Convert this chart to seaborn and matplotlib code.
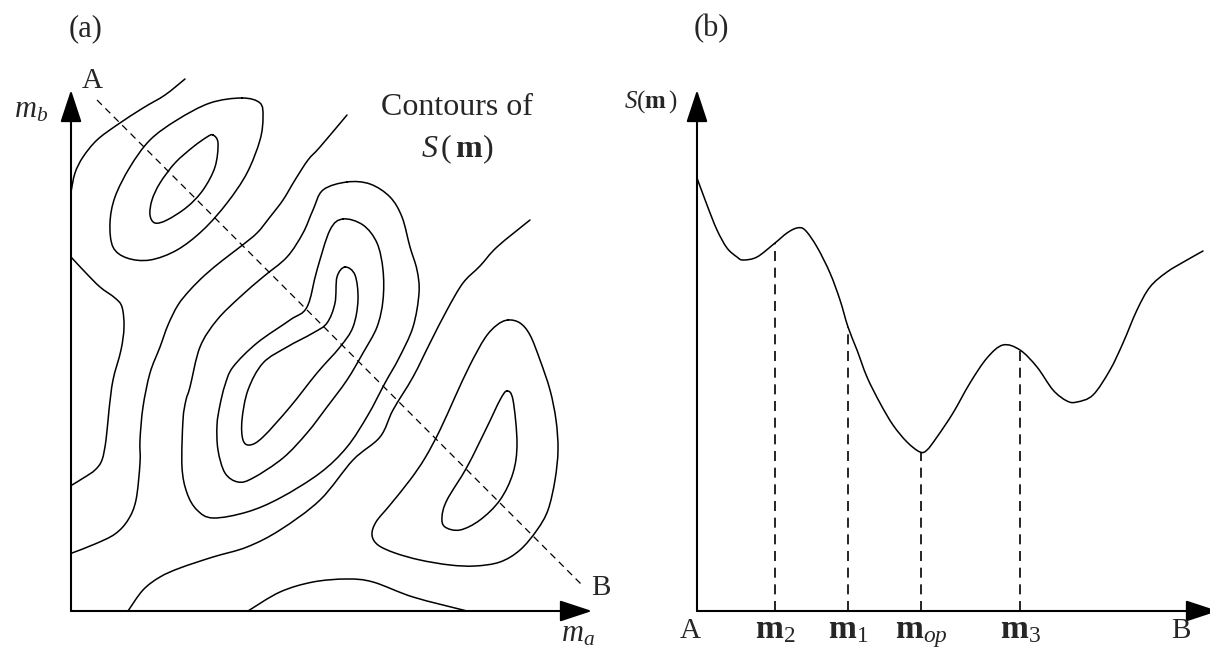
import numpy as np
import pandas as pd
import matplotlib
matplotlib.use("Agg")
import matplotlib.pyplot as plt
from matplotlib.path import Path
from matplotlib.patches import PathPatch
import seaborn as sns

# ---------------- data (panel a: contours of S(m) in the (m_a, m_b) plane) ----------------
c1_ma = [0, 4, 12, 26, 46, 72, 94, 114]
c1_mb = [419, 438, 454, 471, 486, 503, 516, 532]

c2_ma = [171, 189, 192, 189, 176, 156, 132, 106, 79, 56, 42, 39, 44, 59, 79, 106, 139, 171]
c2_mb = [513, 508, 494, 471, 438, 408, 381, 361, 351, 353, 364, 388, 414, 444, 471, 491, 508, 513]

c3_ma = [142, 147, 144, 132, 116, 96, 84, 79, 81, 89, 104, 122, 136, 142]
c3_mb = [476, 468, 444, 421, 404, 391, 388, 396, 411, 428, 448, 464, 474, 476]

c4_ma = [0, 14, 29, 44, 51, 53, 50, 42, 38, 35, 31, 24, 14, 1]
c4_mb = [354, 339, 324, 313, 304, 284, 261, 231, 201, 171, 151, 141, 134, 126]

c5_ma = [276, 249, 237, 224, 212, 199, 186, 169, 152, 134, 119, 107, 97, 89, 79, 72, 69, 69, 65, 57, 44, 24, 1]
c5_mb = [496, 464, 451, 431, 411, 394, 378, 364, 351, 336, 321, 306, 286, 264, 238, 204, 171, 148, 111, 91, 77, 67, 58]

c6_ma = [459, 426, 409, 392, 376, 359, 342, 322, 309, 282, 249, 209, 176, 142, 109, 89, 72, 57]
c6_mb = [391, 364, 345, 328, 301, 268, 234, 201, 174, 151, 111, 81, 64, 54, 43, 34, 21, 0]

c7_ma = [276, 299, 319, 331, 339, 346, 348, 342, 328, 314, 297, 276, 249, 209, 176, 142, 126, 116, 111, 112,
         115, 119, 129, 146, 169, 192, 216, 232, 242, 252, 276]
c7_mb = [429, 427, 414, 394, 364, 341, 318, 284, 253, 228, 196, 164, 138, 113, 99, 93, 101, 118, 144, 191,
         211, 224, 264, 291, 314, 334, 354, 378, 401, 421, 429]

c8_ma = [272, 292, 306, 312, 312, 306, 292, 276, 256, 236, 212, 182, 167, 154, 147, 146, 149, 154, 162, 186,
         219, 236, 246, 259, 272]
c8_mb = [392, 386, 368, 341, 311, 284, 258, 231, 204, 178, 153, 133, 129, 138, 161, 186, 206, 226, 244, 268,
         291, 304, 341, 381, 392]

c9_ma = [274, 284, 287, 282, 269, 246, 219, 192, 179, 172, 171, 177, 192, 216, 242, 256, 264, 266, 274]
c9_mb = [344, 336, 311, 284, 264, 238, 204, 174, 166, 171, 191, 221, 248, 264, 278, 288, 308, 334, 344]

c10_ma = [437, 449, 459, 469, 479, 485, 487, 484, 477, 466, 449, 429, 404, 379, 349, 324, 307, 301, 305, 319,
          339, 354, 369, 384, 399, 414, 426, 437]
c10_mb = [291, 288, 276, 251, 221, 191, 161, 131, 101, 81, 61, 49, 45, 46, 51, 58, 66, 76, 89, 106,
          131, 153, 181, 214, 246, 273, 286, 291]

c11_ma = [436, 442, 446, 442, 429, 409, 389, 374, 371, 376, 396, 416, 429, 436]
c11_mb = [220, 211, 168, 138, 111, 91, 81, 84, 94, 111, 144, 184, 211, 220]

c12_ma = [177, 209, 242, 276, 302, 342, 396]
c12_mb = [0, 19, 29, 32, 29, 14, 0]

ab_ma = [26, 511]          # profile line A -> B
ab_mb = [511, 26]
axis_a_len = 521

# ---------------- data (panel b: S(m) along A-B) ----------------
prof_pos = [0, 10, 20, 30, 40, 46, 60, 78, 90, 100, 108, 120, 133, 143, 151, 160, 170, 183, 196, 210, 223,
            230, 240, 256, 273, 290, 306, 323, 340, 356, 370, 380, 396, 413, 426, 440, 453, 470, 490, 506]
prof_S = [433, 406, 381, 363, 354, 351, 354, 368, 378, 383, 381, 364, 338, 311, 284, 261, 234, 208, 186, 169, 159,
          161, 174, 198, 228, 253, 266, 261, 244, 221, 210, 209, 216, 241, 268, 301, 324, 339, 351, 360]
mark_labels = [r"$\mathbf{m}_2$", r"$\mathbf{m}_1$", r"$\mathbf{m}_{op}$", r"$\mathbf{m}_3$"]
mark_pos = [78, 151, 224, 323]
mark_S = [368, 284, 159, 261]
axis_b_len = 521

# ---------------- style ----------------
sns.set_theme(style="white")
plt.rcParams["font.family"] = ["Liberation Serif", "DejaVu Serif"]
plt.rcParams["mathtext.fontset"] = "custom"
plt.rcParams["mathtext.rm"] = "Liberation Serif"
plt.rcParams["mathtext.it"] = "Liberation Serif:italic"
plt.rcParams["mathtext.bf"] = "Liberation Serif:bold"

W, H = 1210, 651
fig = plt.figure(figsize=(W / 100, H / 100), dpi=100)
fig.patch.set_facecolor("white")

# axes placed so one data unit equals one pixel
ax_a = fig.add_axes([71 / W, 40 / H, 540 / W, 545 / H])
ax_b = fig.add_axes([697 / W, 40 / H, 513 / W, 545 / H])
ax_a.set_xlim(0, 540); ax_a.set_ylim(0, 545)
ax_b.set_xlim(0, 513); ax_b.set_ylim(0, 545)
for ax in (ax_a, ax_b):
    ax.axis("off")


def smooth_lines(ax, lines):
    """Render seaborn's line objects as smooth curves through the same points."""
    for ln in lines:
        xy = np.asarray(ln.get_xydata(), dtype=float)
        n = len(xy)
        if n < 3:
            continue
        closed = np.allclose(xy[0], xy[-1])
        verts = [tuple(xy[0])]
        codes = [Path.MOVETO]
        for i in range(n - 1):
            p1, p2 = xy[i], xy[i + 1]
            if closed:
                p0 = xy[i - 1] if i > 0 else xy[n - 2]
                p3 = xy[i + 2] if i + 2 < n else xy[1]
            else:
                p0 = xy[i - 1] if i > 0 else p1
                p3 = xy[i + 2] if i + 2 < n else p2
            c1 = p1 + (p2 - p0) / 6.0
            c2 = p2 - (p3 - p1) / 6.0
            verts += [tuple(c1), tuple(c2), tuple(p2)]
            codes += [Path.CURVE4] * 3
        patch = PathPatch(Path(verts, codes), facecolor="none", edgecolor=ln.get_color(),
                          lw=ln.get_linewidth(), linestyle=ln.get_linestyle(),
                          transform=ax.transData, clip_on=False, capstyle="round", joinstyle="round")
        ax.add_patch(patch)
        ln.set_visible(False)


LW = 1.1
# ---- panel a contours
contours = [(c1_ma, c1_mb), (c2_ma, c2_mb), (c3_ma, c3_mb), (c4_ma, c4_mb), (c5_ma, c5_mb), (c6_ma, c6_mb),
            (c7_ma, c7_mb), (c8_ma, c8_mb), (c9_ma, c9_mb), (c10_ma, c10_mb), (c11_ma, c11_mb), (c12_ma, c12_mb)]
rows = []
for i, (xs, ys) in enumerate(contours):
    for x, y in zip(xs, ys):
        rows.append({"m_a": x, "m_b": y, "contour": i})
df = pd.DataFrame(rows)
n0 = len(ax_a.lines)
sns.lineplot(data=df, x="m_a", y="m_b", units="contour", estimator=None, sort=False,
             color="black", lw=LW, ax=ax_a, legend=False)
smooth_lines(ax_a, ax_a.lines[n0:])
sns.lineplot(x=ab_ma, y=ab_mb, sort=False, estimator=None, color="black", lw=0.9,
             linestyle=(0, (5.5, 4)), ax=ax_a)

arrow_kw = dict(arrowstyle="-|>,head_length=2.0,head_width=0.66", mutation_scale=10,
                lw=1.5, color="black", shrinkA=0, shrinkB=0)
for ax, L in ((ax_a, axis_a_len), (ax_b, axis_b_len)):
    ax.annotate("", xy=(L, 0), xytext=(0, 0), arrowprops=arrow_kw, annotation_clip=False)
    ax.annotate("", xy=(0, L), xytext=(0, 0), arrowprops=arrow_kw, annotation_clip=False)

# ---- panel b curve
n0 = len(ax_b.lines)
sns.lineplot(x=prof_pos, y=prof_S, sort=False, estimator=None, color="black", lw=LW, ax=ax_b)
smooth_lines(ax_b, ax_b.lines[n0:])
ax_b.vlines(mark_pos, 0, mark_S, colors="black", linestyles=[(0, (6, 4))], lw=1.2)

# ---- texts
ax_a.text(15, 582, "(a)", fontsize=22, ha="center", va="center")
ax_b.text(14, 582, "(b)", fontsize=22, ha="center", va="center")
ax_a.text(21, 523, "A", fontsize=21, ha="center", va="baseline")
ax_a.text(530, 16, "B", fontsize=21, ha="center", va="baseline")
ax_a.text(-40, 493, r"$m_b$", fontsize=22, ha="center", va="baseline")
ax_a.text(507, -31, r"$m_a$", fontsize=22, ha="center", va="baseline")
ax_a.text(386, 496, "Contours of", fontsize=23, ha="center", va="baseline")
ax_a.text(386, 454, r"$S\,(\,\mathbf{m})$", fontsize=23, ha="center", va="baseline")

ax_b.text(-19, 509, r"$S(\mathbf{m}\,)$", fontsize=18, ha="right", va="center")
ax_b.text(-7, -27, "A", fontsize=21, ha="center", va="baseline")
ax_b.text(484, -27, "B", fontsize=21, ha="center", va="baseline")
for lab, x in zip(mark_labels, mark_pos):
    ax_b.text(x, -27, lab, fontsize=24, ha="center", va="baseline")

fig.savefig("out.png", dpi=100, facecolor="white")
